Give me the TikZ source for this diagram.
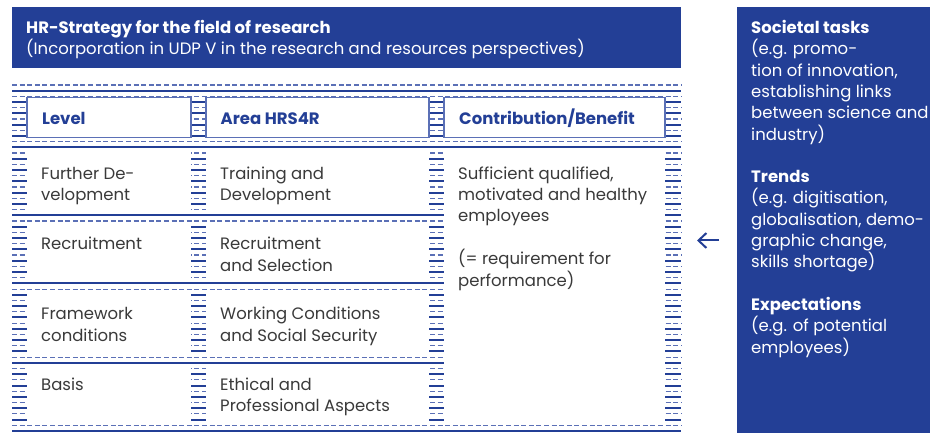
\documentclass[tikz,border=0pt]{standalone}
\usepackage{fontspec}
\setmainfont{Poppins}
\usetikzlibrary{arrows.meta}

\definecolor{hrblue}{HTML}{233F96}
\definecolor{hrline}{HTML}{5B70B6}
\definecolor{hrtext}{HTML}{3A3A3A}

\tikzset{
  stripesolid/.style={hrblue, line width=2pt},
  stripedash/.style={hrline, line width=1.2pt, dash pattern=on 5pt off 2.6pt},
  cell/.style={fill=white},
  headcell/.style={fill=white, draw=hrline, line width=1.3pt},
  celltext/.style={anchor=base west, inner sep=0pt, align=left, text=hrtext,
    font=\fontsize{16.5}{21}\selectfont},
  headtext/.style={anchor=base west, inner sep=0pt, text=hrblue,
    font=\fontsize{16.5}{21}\selectfont\bfseries},
  boxtext/.style={anchor=base west, inner sep=0pt, align=left, text=white,
    font=\fontsize{16.5}{21.3}\selectfont},
}

\begin{document}
\begin{tikzpicture}[x=1pt,y=-1pt]
        \useasboundingbox (0,0) rectangle (930,433);

        % Boxes
        \path [fill=hrblue] (12,7) rectangle (681,68);
        \path [fill=hrblue] (737,7) rectangle (930,433);

        % Stripes
        \foreach \k in {0,2,...,60}
            \draw [stripedash] (12,{85+\k*5.67}) -- (681,{85+\k*5.67});
        \foreach \k in {1,3,...,61}
            \draw [stripesolid] (12,{85+\k*5.67}) -- (681,{85+\k*5.67});

        % Header cells
        \path [headcell] (27,97.5) rectangle (191,137.2);
        \path [headcell] (206,97.5) rectangle (429,137.2);
        \path [headcell] (444,97.5) rectangle (665,137.2);

        % Body cells
        \path [cell] (27,150.2) rectangle (191,212.6);
        \path [cell] (206,150.2) rectangle (429,212.6);
        \path [cell] (27,223.9) rectangle (191,280.6);
        \path [cell] (206,223.9) rectangle (429,280.6);
        \path [cell] (27,292) rectangle (191,354.3);
        \path [cell] (206,292) rectangle (429,354.3);
        \path [cell] (27,365.7) rectangle (191,422.4);
        \path [cell] (206,365.7) rectangle (429,422.4);
        \path [cell] (444,150.2) rectangle (665,422.4);

        % Title (anchored on its last line)
        \node (title) [boxtext] at (26,55)
            {\textbf{HR-Strategy for the field of research}\\
             (Incorporation in UDP V in the research and resources perspectives)};

        % Header
        \node (level) [headtext] at (42,125) {Level};
        \node (area) [headtext] at (220.5,125) {Area HRS4R};
        \node (benefit) [headtext] at (459,125) {Contribution/Benefit};

        % Rows
        \node (lvlone) [celltext] at (41,201) {Further De-\\velopment};
        \node (areaone) [celltext] at (220,201) {Training and\\Development};
        \node (lvltwo) [celltext] at (41,250) {Recruitment};
        \node (areatwo) [celltext] at (220,271) {Recruitment\\and Selection};
        \node (lvlthree) [celltext] at (41,341) {Framework\\conditions};
        \node (areathree) [celltext] at (220,341) {Working Conditions\\and Social Security};
        \node (lvlfour) [celltext] at (41,390) {Basis};
        \node (areafour) [celltext] at (220,411) {Ethical and\\Professional Aspects};
        \node (gain) [celltext] at (458,222)
            {Sufficient qualified,\\motivated and healthy\\employees};
        \node (perf) [celltext] at (458,286) {(= requirement for\\performance)};

        % Influences
        \node (infl) [boxtext] at (751,353)
            {\textbf{Societal tasks}\\(e.g. promo-\\tion of innovation,\\establishing links\\
             between science and\\industry)\\[21.3pt]
             \textbf{Trends}\\(e.g. digitisation,\\globalisation, demo-\\graphic change,\\
             skills shortage)\\[21.3pt]
             \textbf{Expectations}\\(e.g. of potential\\employees)};

        % Arrow
        \coordinate (arrfrom) at (719,240.5);
        \coordinate (arrto) at (697,240.5);
        \draw [-{Straight Barb[length=8pt,width=15pt]}, hrblue, line width=2pt]
            (arrfrom) -- (arrto);
\end{tikzpicture}
\end{document}
